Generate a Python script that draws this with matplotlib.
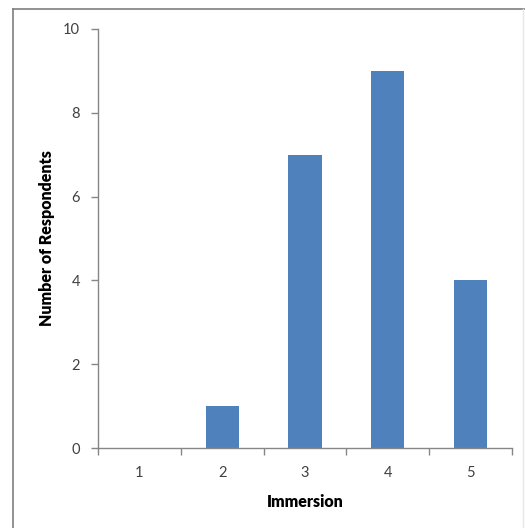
import numpy as np
import matplotlib.pyplot as plt
from matplotlib.lines import Line2D

# Responses per immersion score
scores = ['1', '2', '3', '4', '5']
respondents = [0, 1, 7, 9, 4]

bar_color = '#4F81BD'
axis_color = '#868686'
text_color = '#404040'

plt.rcParams['font.family'] = ['Lato', 'DejaVu Sans']

fig = plt.figure(figsize=(5.25, 5.28), dpi=100)
ax = fig.add_axes([98 / 525, 1 - 448 / 528, (512 - 98) / 525, (448 - 29) / 528])

x = np.arange(1, len(scores) + 1)
ax.bar(x, respondents, width=0.4, color=bar_color, zorder=2)

ax.set_xlim(0.5, len(scores) + 0.5)
ax.set_ylim(0, 10)
ax.set_yticks(np.arange(0, 11, 2))

# category labels at bar centres, tick marks at category boundaries
ax.set_xticks(np.arange(0.5, len(scores) + 1, 1.0))
ax.set_xticklabels([])
ax.set_xticks(x, minor=True)
ax.set_xticklabels(scores, minor=True)
ax.tick_params(axis='x', which='major', length=5, width=1, color=axis_color, direction='out')
ax.tick_params(axis='x', which='minor', length=0, pad=13, labelsize=10.5, labelcolor=text_color)
ax.tick_params(axis='y', length=5, width=1, color=axis_color, direction='out', pad=8,
               labelsize=10.5, labelcolor=text_color)

for side in ['top', 'right']:
    ax.spines[side].set_visible(False)
for side in ['left', 'bottom']:
    ax.spines[side].set_color(axis_color)
    ax.spines[side].set_linewidth(1)

ax.set_xlabel('Immersion', fontsize=11.5, fontweight='heavy', labelpad=10)
ax.set_ylabel('Number of Respondents', fontsize=11.5, fontweight='heavy', labelpad=6)

# chart area frame
frame_kw = dict(transform=fig.transFigure, color='#7f7f7f', lw=1.2)
fig.add_artist(Line2D([13 / 525, 1], [1 - 9 / 528, 1 - 9 / 528], **frame_kw))
fig.add_artist(Line2D([13 / 525, 13 / 525], [0, 1 - 9 / 528], **frame_kw))
fig.add_artist(Line2D([523 / 525, 523 / 525], [0, 1 - 9 / 528], transform=fig.transFigure,
                      color='#e6e6e6', lw=1))

fig.savefig('out.png', dpi=100)
